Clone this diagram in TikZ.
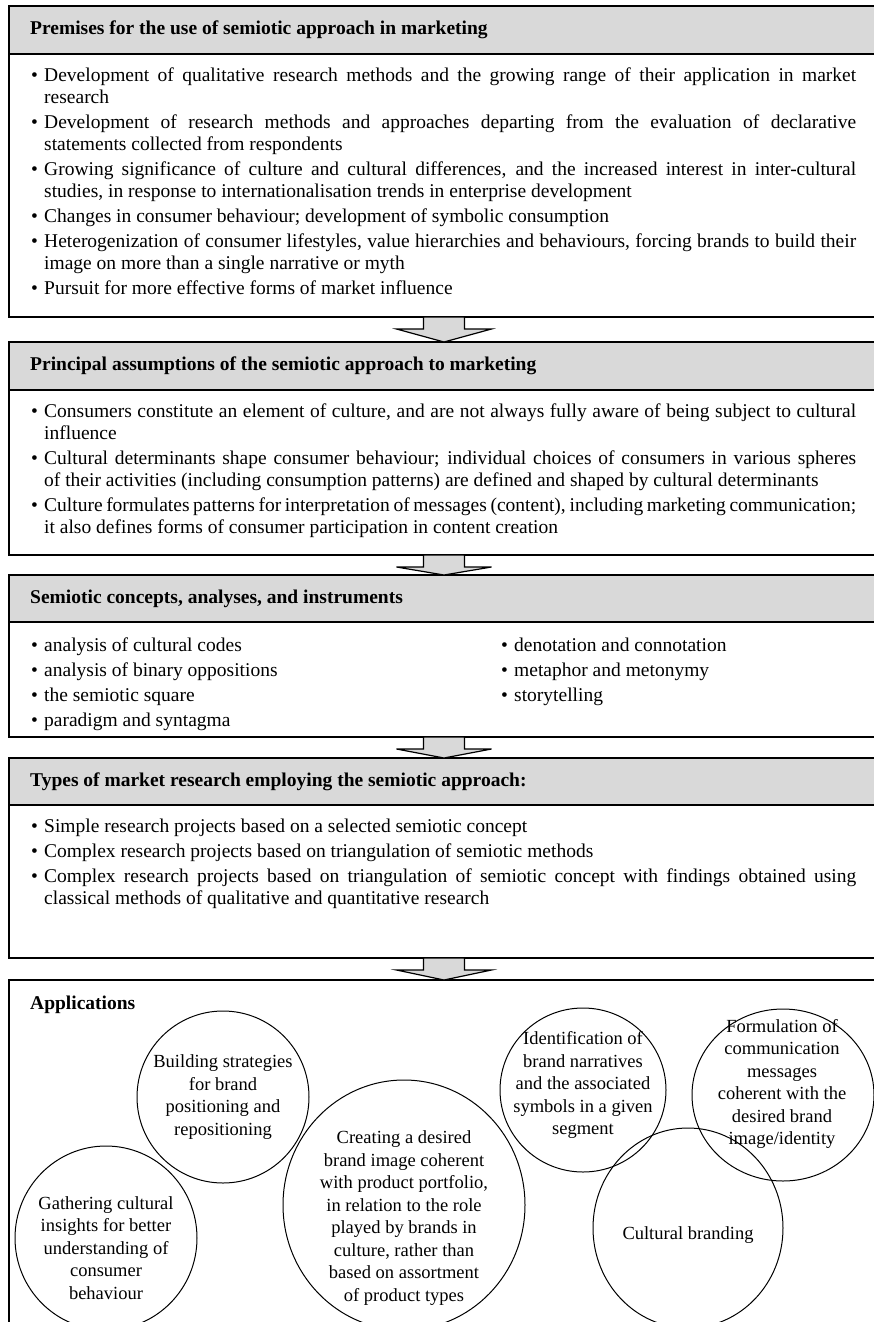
\documentclass[tikz,border=0pt]{standalone}
\usepackage{fontspec}
\setmainfont{Liberation Serif}
\usetikzlibrary{positioning,calc,shapes.geometric}

\definecolor{headgray}{RGB}{217,217,217}
\hyphenpenalty=10000
\exhyphenpenalty=10000

\newcommand{\bodyfont}{\fontsize{19.5}{22}\selectfont}
\newcommand{\bpoint}[1]{\noindent\hangindent=13pt\hangafter=1\makebox[13pt][l]{\textbullet}#1\par}
\newcommand{\flowstep}[2]{%
	\draw[flow arrow] ($(#1.south)+(-20.5,0)$) -- ++(0,-12) -- ++(-27,0)
		-- (#2.north) -- ($(#1.south)+(47.5,-12)$) -- ++(-27,0) -- ++(0,12) -- cycle;}

\tikzset{
	panel/.style={draw, line width=1.2pt, rectangle, minimum width=870pt, inner sep=0pt, outer sep=0pt},
	panel head/.style={panel, fill=headgray, minimum height=48pt},
	head text/.style={font=\bodyfont\bfseries, inner sep=0pt},
	body text/.style={font=\bodyfont, text width=825pt, align=justify, inner sep=0pt,
		execute at begin node={\setlength{\parskip}{3pt}\spaceskip=0.25em plus 0.6em minus 0.08em\relax}},
	col text/.style={body text, text width=440pt},
	bubble/.style={draw, ellipse, line width=1pt, inner sep=0pt},
	bubble text/.style={font=\fontsize{18.5}{22.5}\selectfont, align=center, inner sep=0pt},
	flow arrow/.style={line width=1.2pt, fill=headgray, line join=miter}
}

\begin{document}
\begin{tikzpicture}[x=1pt, y=1pt]
	\useasboundingbox (0,0) rectangle (873,-1322);

	% premises
	\node[panel head, anchor=north west] (h1) at (9,-6) {};
	\node[panel, minimum height=263pt, below=0pt of h1] (b1) {};
	\node[head text, right=21pt of h1.west] (t1) {Premises for the use of semiotic approach in marketing};
	\node[body text, below right=14pt and 22pt of b1.north west] (l1) {%
		\bpoint{Development of qualitative research methods and the growing range of their application in market\linebreak research}
		\bpoint{Development of research methods and approaches departing from the evaluation of declarative\linebreak statements collected from respondents}
		\bpoint{Growing significance of culture and cultural differences, and the increased interest in inter-cultural\linebreak studies, in response to internationalisation trends in enterprise development}
		\bpoint{Changes in consumer behaviour; development of symbolic consumption}
		\bpoint{Heterogenization of consumer lifestyles, value hierarchies and behaviours, forcing brands to build their\linebreak image on more than a single narrative or myth}
		\bpoint{Pursuit for more effective forms of market influence}};

	% assumptions
	\node[panel head, below=25pt of b1] (h2) {};
	\node[panel, minimum height=165pt, below=0pt of h2] (b2) {};
	\node[head text, right=21pt of h2.west] (t2) {Principal assumptions of the semiotic approach to marketing};
	\node[body text, below right=14pt and 22pt of b2.north west] (l2) {%
		\bpoint{Consumers constitute an element of culture, and are not always fully aware of being subject to cultural\linebreak influence}
		\bpoint{Cultural determinants shape consumer behaviour; individual choices of consumers in various spheres\linebreak of their activities (including consumption patterns) are defined and shaped by cultural determinants}
		\bpoint{Culture formulates patterns for interpretation of messages (content), including marketing communication;\linebreak it also defines forms of consumer participation in content creation}};

	% concepts
	\node[panel head, minimum height=47pt, below=20pt of b2] (h3) {};
	\node[panel, minimum height=115pt, below=0pt of h3] (b3) {};
	\node[head text, right=21pt of h3.west] (t3) {Semiotic concepts, analyses, and instruments};
	\node[col text, below right=16pt and 22pt of b3.north west] (l3a) {%
		\bpoint{analysis of cultural codes}
		\bpoint{analysis of binary oppositions}
		\bpoint{the semiotic square}
		\bpoint{paradigm and syntagma}};
	\node[col text, below right=16pt and 492pt of b3.north west] (l3b) {%
		\bpoint{denotation and connotation}
		\bpoint{metaphor and metonymy}
		\bpoint{storytelling}};

	% research types
	\node[panel head, minimum height=47pt, below=21pt of b3] (h4) {};
	\node[panel, minimum height=153pt, below=0pt of h4] (b4) {};
	\node[head text, right=21pt of h4.west] (t4) {Types of market research employing the semiotic approach:};
	\node[body text, below right=14pt and 22pt of b4.north west] (l4) {%
		\bpoint{Simple research projects based on a selected semiotic concept}
		\bpoint{Complex research projects based on triangulation of semiotic methods}
		\bpoint{Complex research projects based on triangulation of semiotic concept with findings obtained using\linebreak classical methods of qualitative and quantitative research}};

	% applications
	\node[panel, minimum height=360pt, below=22pt of b4] (b5) {};
	\node[head text, below right=16pt and 21pt of b5.north west] (t5) {Applications};

	\node[bubble, minimum width=172pt, minimum height=172pt] (c1) at (223,-1097) {};
	\node[bubble, minimum width=182pt, minimum height=184pt] (c2) at (106,-1238) {};
	\node[bubble, minimum width=242pt, minimum height=250pt] (c3) at (404,-1205) {};
	\node[bubble, minimum width=166pt, minimum height=164pt] (c4) at (583,-1090) {};
	\node[bubble, minimum width=182pt, minimum height=172pt] (c5) at (783,-1095) {};
	\node[bubble, minimum width=190pt, minimum height=200pt] (c6) at (688,-1228) {};

	\node[bubble text] (a1) at (223,-1097) {Building strategies\\for brand\\positioning and\\repositioning};
	\node[bubble text] (a2) at (106,-1248) {Gathering cultural\\insights for better\\understanding of\\consumer\\behaviour};
	\node[bubble text] (a3) at (404,-1218) {Creating a desired\\brand image coherent\\with product portfolio,\\in relation to the role\\played by brands in\\culture, rather than\\based on assortment\\of product types};
	\node[bubble text] (a4) at (583,-1085) {Identification of\\brand narratives\\and the associated\\symbols in a given\\segment};
	\node[bubble text] (a5) at (782,-1084) {Formulation of\\communication\\messages\\coherent with the\\desired brand\\image/identity};
	\node[bubble text] (a6) at (688,-1235) {Cultural branding};

	\flowstep{b1}{h2}
	\flowstep{b2}{h3}
	\flowstep{b3}{h4}
	\flowstep{b4}{b5}
\end{tikzpicture}
\end{document}
